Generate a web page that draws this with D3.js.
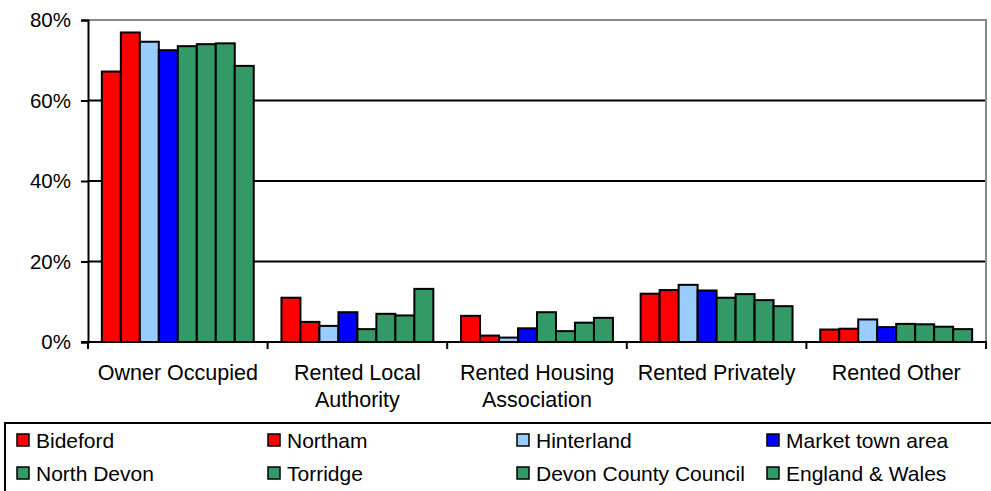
<!DOCTYPE html>
<html>
<head>
<meta charset="utf-8">
<script src="https://cdn.jsdelivr.net/npm/d3@7"></script>
<style>
  body { margin: 0; background: #fff; }
  text { font-family: "Liberation Sans", Arial, sans-serif; fill: #000; }
</style>
</head>
<body>
<svg id="chart" width="991" height="491"></svg>
<script>
// tenure categories (x axis), two-line labels
const categories = ["Owner Occupied", "Rented Local Authority", "Rented Housing Association", "Rented Privately", "Rented Other"];
const catLines = [["Owner Occupied"], ["Rented Local", "Authority"], ["Rented Housing", "Association"], ["Rented Privately"], ["Rented Other"]];

const areas = ["Bideford", "Northam", "Hinterland", "Market town area", "North Devon", "Torridge", "Devon County Council", "England & Wales"];
const areaColors = ["#ff0000", "#ff0000", "#99ccff", "#0000ff", "#339966", "#339966", "#339966", "#339966"];

// percentages per area, in category order
const bideford   = [67.2, 11.0, 6.5, 12.0, 3.1];
const northam    = [76.9, 5.0, 1.6, 12.9, 3.3];
const hinterland = [74.6, 4.0, 1.1, 14.2, 5.6];
const marketTown = [72.5, 7.4, 3.4, 12.8, 3.7];
const northDevon = [73.5, 3.2, 7.4, 11.0, 4.5];
const torridge   = [74.0, 7.0, 2.7, 11.9, 4.4];
const devonCC    = [74.2, 6.6, 4.8, 10.4, 3.8];
const englandWales = [68.6, 13.2, 6.0, 8.9, 3.2];
const series = [bideford, northam, hinterland, marketTown, northDevon, torridge, devonCC, englandWales];

const yTicks = [0, 20, 40, 60, 80];

const svg = d3.select("#chart");
const pLeft = 88, pRight = 986, pTop = 20, pBottom = 342;

const x0 = d3.scaleBand().domain(categories).range([pLeft, pRight]).paddingInner(0).paddingOuter(0);
const x1 = d3.scaleBand().domain(areas).range([0, x0.bandwidth()]).paddingInner(0).paddingOuter(0.73);
const y = d3.scaleLinear().domain([0, 80]).range([pBottom, pTop]);

// gridlines
svg.append("g")
    .selectAll("line")
    .data(yTicks.filter(t => t > 0 && t < 80))
    .join("line")
    .attr("x1", pLeft).attr("x2", pRight)
    .attr("y1", d => y(d)).attr("y2", d => y(d))
    .attr("stroke", "#000").attr("stroke-width", 2);

// plot area border (top / right) in grey
svg.append("path")
    .attr("d", `M${pLeft},${y(80)}H${pRight}V${pBottom}`)
    .attr("fill", "none").attr("stroke", "#888").attr("stroke-width", 2);

// bars
const groups = svg.append("g")
    .selectAll("g")
    .data(categories)
    .join("g")
    .attr("transform", d => `translate(${x0(d)},0)`);

groups.selectAll("rect")
    .data((c, ci) => areas.map((a, ai) => ({area: a, i: ai, v: series[ai][ci]})))
    .join("rect")
    .attr("x", d => x1(d.area))
    .attr("width", x1.bandwidth())
    .attr("y", d => y(d.v))
    .attr("height", d => y(0) - y(d.v))
    .style("fill", d => areaColors[d.i])
    .attr("stroke", "#000")
    .attr("stroke-width", 2);

// y axis
const yAxis = svg.append("g").attr("transform", `translate(${pLeft},0)`)
    .call(d3.axisLeft(y).tickValues(yTicks).tickSize(7).tickPadding(10).tickFormat(d => d + "%"));
yAxis.select(".domain").attr("stroke", "#000").attr("stroke-width", 2);
yAxis.selectAll(".tick line").attr("stroke", "#000").attr("stroke-width", 2);
yAxis.selectAll(".tick text").style("font-size", "20.5px").style("font-family", "Liberation Sans, Arial, sans-serif").attr("fill", "#000");

// x axis line + boundary ticks
svg.append("line")
    .attr("x1", pLeft - 7).attr("x2", pRight + 1)
    .attr("y1", pBottom).attr("y2", pBottom)
    .attr("stroke", "#000").attr("stroke-width", 2);
const bounds = categories.map(c => x0(c)).concat([x0(categories[categories.length - 1]) + x0.bandwidth()]);
svg.append("g")
    .selectAll("line")
    .data(bounds)
    .join("line")
    .attr("x1", d => d).attr("x2", d => d)
    .attr("y1", pBottom).attr("y2", pBottom + 7)
    .attr("stroke", "#000").attr("stroke-width", 2);

// category labels
const labels = svg.append("g")
    .selectAll("text")
    .data(categories)
    .join("text")
    .attr("text-anchor", "middle")
    .style("font-size", "21.5px")
    .attr("transform", d => `translate(${x0(d) + x0.bandwidth() / 2},380)`);
labels.selectAll("tspan")
    .data((d, i) => catLines[i])
    .join("tspan")
    .attr("x", 0)
    .attr("dy", (d, i) => i === 0 ? 0 : 27)
    .text(d => d);

// legend
svg.append("rect")
    .attr("x", 5).attr("y", 423)
    .attr("width", 990).attr("height", 80)
    .attr("fill", "#fff").attr("stroke", "#000").attr("stroke-width", 2);

const colX = [17, 268, 517, 767];
const rowY = [440, 473];
const legend = svg.append("g")
    .selectAll("g")
    .data(areas)
    .join("g")
    .attr("transform", (d, i) => `translate(${colX[i % 4]},${rowY[Math.floor(i / 4)]})`);
legend.append("rect")
    .attr("x", 0).attr("y", -6).attr("width", 12).attr("height", 12)
    .style("fill", (d, i) => areaColors[i])
    .attr("stroke", "#000").attr("stroke-width", 1.5);
legend.append("text")
    .attr("x", 19).attr("dy", "0.36em")
    .style("font-size", "21px")
    .text(d => d);
</script>
</body>
</html>
